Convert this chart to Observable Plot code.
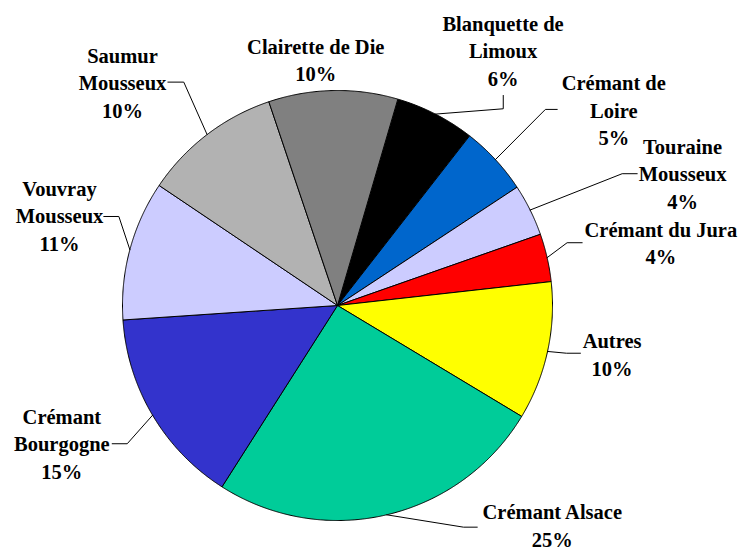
<!DOCTYPE html>
<html><head><meta charset="utf-8">
<script src="https://cdn.jsdelivr.net/npm/d3@7"></script>
<script src="https://cdn.jsdelivr.net/npm/@observablehq/plot@0.6"></script>
<style>body{margin:0;background:#fff}#chart{width:739px;height:550px}#chart svg text{font-family:"Liberation Serif",serif}</style>
</head><body><div id="chart"></div>
<script>
// ---- data ----
const categories = ["Blanquette de Limoux","Crémant de Loire","Touraine Mousseux","Crémant du Jura","Autres","Crémant Alsace","Crémant Bourgogne","Vouvray Mousseux","Saumur Mousseux","Clairette de Die"];
const shares = [6.0, 5.2, 3.9, 3.6, 10.4, 25.4, 14.9, 10.5, 10.4, 9.7];
const labelLines = [["Blanquette de","Limoux"],["Crémant de","Loire"],["Touraine","Mousseux"],["Crémant du Jura"],["Autres"],["Crémant Alsace"],["Crémant","Bourgogne"],["Vouvray","Mousseux"],["Saumur","Mousseux"],["Clairette de Die"]];
const percentLabels = ["6%","5%","4%","4%","10%","25%","15%","11%","10%","10%"];
const sliceColors = ["#000000","#0066CC","#CCCCFF","#FF0000","#FFFF00","#00CC99","#3333CC","#CCCCFF","#B2B2B2","#808080"];

// ---- layout (pie-radius units) ----
const startDeg = 16.3;
const labelAnchor = [[0.770,1.191],[1.285,0.915],[1.605,0.619],[1.504,0.298],[1.277,-0.222],[0.999,-1.018],[-1.282,-0.637],[-1.293,0.424],[-1.0,1.041],[-0.101,1.149]];
const leaderElbow = [[0.771,0.915],[0.967,0.912],[1.324,0.613],[1.068,0.292],[1.065,-0.222],[0.586,-1.031],[-0.978,-0.643],[-1.017,0.414],[-0.715,1.039],null];
const leaderEnd   = [[0.771,0.977],[1.022,0.912],[1.394,0.613],[1.138,0.292],[1.130,-0.222],[0.650,-1.031],[-1.048,-0.643],[-1.087,0.414],[-0.789,1.039],null];

const a0 = startDeg * Math.PI / 180;
const arcs = d3.pie().sort(null).value(d => d).startAngle(a0).endAngle(a0 + 2 * Math.PI)(shares);

const slicePts = [];
const leaderPts = [];
const labels = [];
arcs.forEach((a, i) => {
  const cat = categories[i];
  slicePts.push({cat, x: 0, y: 0});
  const n = Math.max(2, Math.ceil((a.endAngle - a.startAngle) / 0.005));
  for (let k = 0; k <= n; k++) {
    const t = a.startAngle + (a.endAngle - a.startAngle) * k / n;
    slicePts.push({cat, x: Math.sin(t), y: Math.cos(t)});
  }
  slicePts.push({cat, x: 0, y: 0});
  const mid = (a.startAngle + a.endAngle) / 2;
  if (leaderElbow[i]) {
    leaderPts.push({cat, x: Math.sin(mid), y: Math.cos(mid)});
    leaderPts.push({cat, x: leaderElbow[i][0], y: leaderElbow[i][1]});
    leaderPts.push({cat, x: leaderEnd[i][0], y: leaderEnd[i][1]});
  }
  labels.push({x: labelAnchor[i][0], y: labelAnchor[i][1], text: [...labelLines[i], percentLabels[i]].join("\n")});
});

const chart = Plot.plot({
  width: 739,
  height: 550,
  margin: 0,
  x: {domain: [-1, 1], range: [122, 552], axis: null},
  y: {domain: [-1, 1], range: [520, 90], axis: null},
  color: {domain: categories, range: sliceColors},
  style: {background: "#fff", fontFamily: "Liberation Serif"},
  marks: [
    Plot.line(slicePts, {x: "x", y: "y", z: "cat", fill: "cat", stroke: "#000", strokeWidth: 1, curve: "linear", strokeLinejoin: "round"}),
    Plot.line(leaderPts, {x: "x", y: "y", z: "cat", stroke: "#000", strokeWidth: 1, curve: "linear"}),
    Plot.text(labels, {x: "x", y: "y", text: "text", fontSize: 20.5, fontWeight: "bold", fontFamily: "Liberation Serif", lineHeight: 1.337, textAnchor: "middle", fill: "#000"})
  ]
});
document.getElementById("chart").appendChild(chart);
</script>
</body></html>
